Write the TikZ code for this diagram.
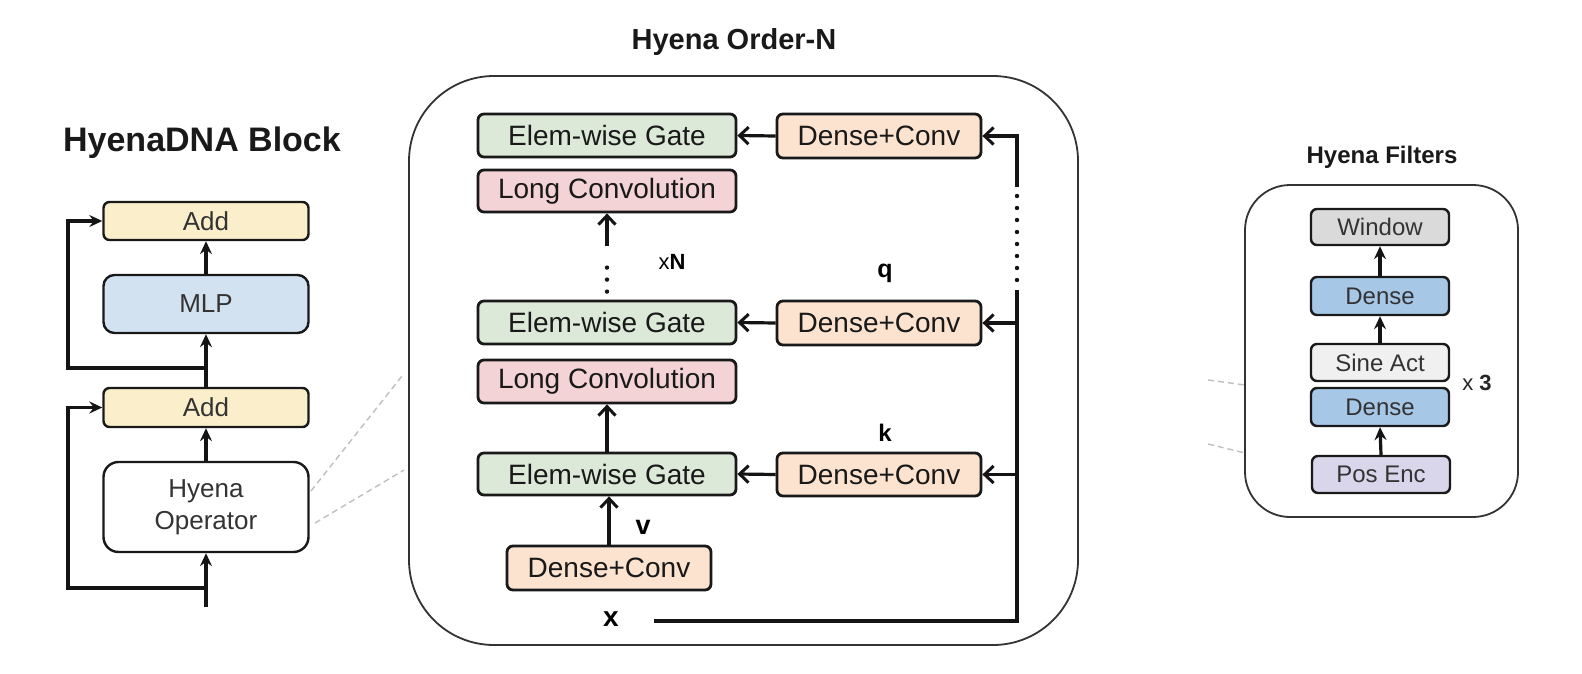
\documentclass[tikz,border=0pt]{standalone}
\usepackage{fontspec}
\setmainfont{Liberation Sans}
\usetikzlibrary{arrows.meta}
\definecolor{addc}{HTML}{FBEFCB}
\definecolor{mlpc}{HTML}{D3E2F1}
\definecolor{egc}{HTML}{DCE8D8}
\definecolor{lcc}{HTML}{F3D3D5}
\definecolor{dcc}{HTML}{FBE3D0}
\definecolor{winc}{HTML}{DADADA}
\definecolor{denc}{HTML}{A7C7E7}
\definecolor{sinc}{HTML}{F0F0F0}
\definecolor{pec}{HTML}{D9D5EA}
\tikzset{
  bx/.style={draw=black!90, line width=2.4pt, rounded corners=6pt, inner sep=0pt, text=black!85},
  lbox/.style={bx, minimum width=205pt, font=\fontsize{26}{32}\selectfont, text=black!80},
  mbox/.style={bx, line width=2.8pt, font=\fontsize{28}{30}\selectfont, text=black!90},
  fbox/.style={bx, minimum width=138pt, font=\fontsize{24}{28}\selectfont, text=black!80},
  conn/.style={line width=3.2pt, draw=black!92},
  arr/.style={conn, -{Straight Barb[length=9pt,width=17pt,line width=3pt]}},
  sarr/.style={conn, -{Stealth[length=13pt,width=12pt,inset=4.5pt]}},
  dotl/.style={line width=4.4pt, draw=black!92, dash pattern=on 0pt off 12pt, line cap=round},
  zoomline/.style={draw=black!25, line width=1.4pt, dash pattern=on 6pt off 4pt},
  panel/.style={draw=black!80, line width=1.8pt},
  ttl/.style={font=\bfseries, text=black!90, inner sep=0pt},
  lbl/.style={font=\bfseries\fontsize{25}{28}\selectfont, inner sep=0pt},
}
\begin{document}
\begin{tikzpicture}[x=1pt,y=-1pt]
\useasboundingbox[fill=white] (0,0) rectangle (1582,674);

% ---------------- left: HyenaDNA Block ----------------
\node[ttl, font=\bfseries\fontsize{34}{38}\selectfont] (t1) at (202,143) {HyenaDNA Block};
\node[lbox, fill=addc, minimum height=38pt] (Add1) at (206,221) {Add};
\node[lbox, fill=mlpc, minimum height=58pt, rounded corners=11pt] (MLP) at (206,304) {MLP};
\node[lbox, fill=addc, minimum height=39pt] (Add2) at (206,407.5) {Add};
\node[lbox, fill=white, minimum height=90pt, rounded corners=15pt, align=center] (HO) at (206,507) {Hyena\\Operator};

\coordinate (in) at (206,607);
\coordinate (j1) at (206,588);
\coordinate (j2) at (206,368);
\coordinate (lx1) at (68,588);
\coordinate (lx2) at (68,368);
\draw[sarr] (in) -- (HO.south);
\draw[sarr] (j1) -- (lx1) |- (Add2.west);
\draw[sarr] (HO.north) -- (Add2.south);
\draw[sarr] (Add2.north) -- (MLP.south);
\draw[sarr] (j2) -- (lx2) |- (Add1.west);
\draw[sarr] (MLP.north) -- (Add1.south);

% zoom lines
\coordinate (z1a) at (311,491); \coordinate (z1b) at (402,376);
\coordinate (z2a) at (315,523); \coordinate (z2b) at (404,470);
\draw[zoomline] (z1a) -- (z1b);
\draw[zoomline] (z2a) -- (z2b);
\coordinate (z3a) at (1208,380); \coordinate (z3b) at (1245,385);
\coordinate (z4a) at (1208,444); \coordinate (z4b) at (1245,453);
\draw[zoomline] (z3a) -- (z3b);
\draw[zoomline] (z4a) -- (z4b);

% ---------------- middle: Hyena Order-N ----------------
\node[ttl, font=\bfseries\fontsize{29}{32}\selectfont] (t2) at (734,42) {Hyena Order-N};
\draw[panel, rounded corners=85pt] (409,76) rectangle (1078,645);

\node[mbox, fill=egc, minimum width=258pt, minimum height=43pt] (EG1) at (607,135.5) {Elem-wise Gate};
\node[mbox, fill=dcc, minimum width=204pt, minimum height=44pt] (DC1) at (879,136) {Dense+Conv};
\node[mbox, fill=lcc, minimum width=258pt, minimum height=42pt] (LC1) at (607,191) {Long Convolution};
\node[mbox, fill=egc, minimum width=258pt, minimum height=43pt] (EG2) at (607,322.5) {Elem-wise Gate};
\node[mbox, fill=dcc, minimum width=204pt, minimum height=44pt] (DC2) at (879,323) {Dense+Conv};
\node[mbox, fill=lcc, minimum width=258pt, minimum height=43pt] (LC2) at (607,381.5) {Long Convolution};
\node[mbox, fill=egc, minimum width=258pt, minimum height=42pt] (EG3) at (607,474) {Elem-wise Gate};
\node[mbox, fill=dcc, minimum width=204pt, minimum height=43pt] (DC3) at (879,474.5) {Dense+Conv};
\node[mbox, fill=dcc, minimum width=204pt, minimum height=44pt] (DCv) at (609,568) {Dense+Conv};

\node[inner sep=0pt, font=\fontsize{22}{24}\selectfont] (xN) at (672,262) {x\textbf{N}};
\node[lbl] (q) at (885,273) {q};
\node[lbl, font=\bfseries\fontsize{24}{26}\selectfont] (k) at (885,433) {k};
\node[lbl, font=\bfseries\fontsize{27}{28}\selectfont] (v) at (643,527) {v};
\node[lbl, font=\bfseries\fontsize{28}{30}\selectfont] (x) at (611,619) {x};

\draw[arr] (DCv.north) -- (DCv.north |- EG3.south);
\draw[arr] (EG3.north) -- (LC2.south);
\draw[dotl] ([yshift=8pt]EG2.north) -- ([yshift=-44pt]LC1.south);
\draw[arr] ([yshift=-33pt]LC1.south) -- (LC1.south);

\draw[arr] (DC1.west) -- (EG1.east);
\draw[arr] (DC2.west) -- (EG2.east);
\draw[arr] (DC3.west) -- (EG3.east);

\coordinate (xs) at (654,621);
\coordinate (xc) at (1017,621);
\coordinate (vtop) at (1017,290);
\coordinate (vd1) at (1017,280);
\coordinate (vd2) at (1017,196);
\coordinate (vbrk) at (1017,187);
\draw[conn] (xs) -- (xc) -- (vtop);
\draw[dotl] (vd1) -- (vd2);
\draw[arr] (vbrk) |- (DC1.east);
\draw[arr] (DC2.east -| xc) -- (DC2.east);
\draw[arr] (DC3.east -| xc) -- (DC3.east);

% ---------------- right: Hyena Filters ----------------
\node[ttl, font=\bfseries\fontsize{24}{26}\selectfont] (t3) at (1382,157) {Hyena Filters};
\draw[panel, rounded corners=45pt] (1245,185) rectangle (1518,517);
\node[fbox, fill=winc, minimum height=36pt] (W) at (1380,227) {Window};
\node[fbox, fill=denc, minimum height=38pt] (D1) at (1380,296) {Dense};
\node[fbox, fill=sinc, minimum height=37pt] (SA) at (1380,362.5) {Sine Act};
\node[fbox, fill=denc, minimum height=38pt] (D2) at (1380,407) {Dense};
\node[fbox, fill=pec, minimum height=37pt] (PE) at (1381,474.5) {Pos Enc};
\node[inner sep=0pt, font=\fontsize{22}{24}\selectfont, text=black!85] (x3) at (1477,383) {x \textbf{3}};
\draw[sarr] (PE.north) -- (D2.south);
\draw[sarr] (SA.north) -- (D1.south);
\draw[sarr] (D1.north) -- (W.south);
\end{tikzpicture}
\end{document}
